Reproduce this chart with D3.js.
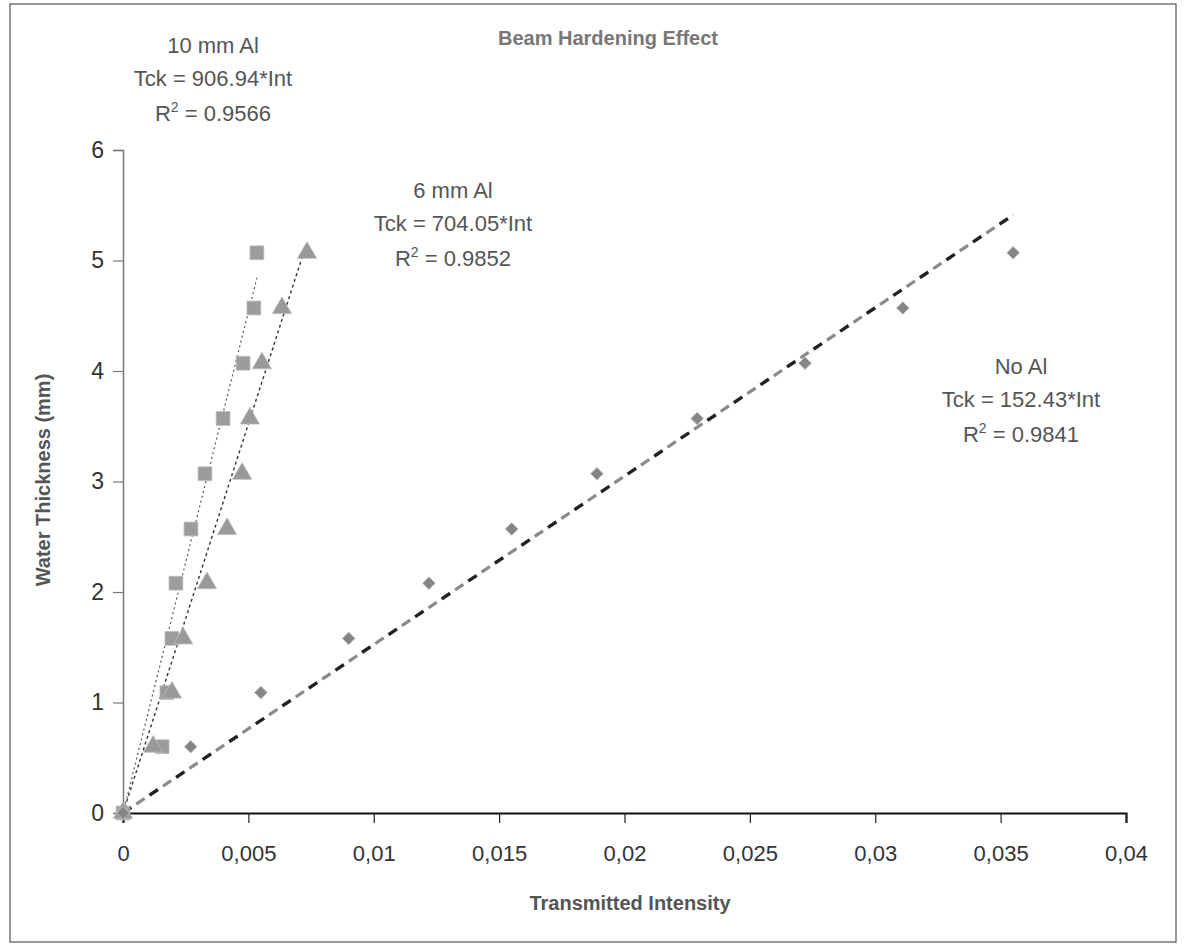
<!DOCTYPE html>
<html>
<head>
<meta charset="utf-8">
<script src="https://cdn.jsdelivr.net/npm/d3@7"></script>
<style>
  body { margin: 0; background: #fff; }
  text { font-family: "Liberation Sans", Arial, sans-serif; }
</style>
</head>
<body>
<div id="chart"></div>
<script>
// water thickness steps (mm), shared by the three series
var thickness = [0, 0.6, 1.09, 1.58, 2.08, 2.57, 3.07, 3.57, 4.07, 4.57, 5.07]
var intNoAl = [0, 0.0027, 0.0055, 0.0090, 0.0122, 0.0155, 0.0189, 0.0229, 0.0272, 0.0311, 0.0355]
var int6mm = [0, 0.0012, 0.00195, 0.0024, 0.00335, 0.00415, 0.00475, 0.00506, 0.00554, 0.00634, 0.00734]
var int10mm = [0, 0.00156, 0.00175, 0.00195, 0.00211, 0.00271, 0.00327, 0.00399, 0.00479, 0.00522, 0.00534]

var slopes = { noal: 152.43, al6: 704.05, al10: 906.94 }
var r2 = { noal: '0.9841', al6: '0.9852', al10: '0.9566' }

var xTicks = [0, 0.005, 0.01, 0.015, 0.02, 0.025, 0.03, 0.035, 0.04]
var yTicks = [0, 1, 2, 3, 4, 5, 6]

var W = 1184, H = 950

var svg = d3.select('#chart').append('svg')
    .attr('width', W)
    .attr('height', H)

// outer frame of the scanned chart
svg.append('rect')
    .attr('x', 10).attr('y', 4)
    .attr('width', 1166).attr('height', 938)
    .attr('fill', 'none')
    .attr('stroke', '#555')
    .attr('stroke-width', 1.2)

var x = d3.scaleLinear().domain([0, 0.04]).range([123, 1126])
var y = d3.scaleLinear().domain([0, 6]).range([813, 150])

// y axis (grey, thin)
var yAxis = svg.append('g')
    .attr('transform', 'translate(' + x(0) + ',0)')
    .call(d3.axisLeft(y).tickValues(yTicks).tickSize(10).tickPadding(9).tickFormat(d3.format('d')))
yAxis.select('.domain').attr('stroke', '#777').attr('stroke-width', 1.5)
yAxis.selectAll('.tick line').attr('stroke', '#777').attr('stroke-width', 1.2)
yAxis.selectAll('.tick text')
    .attr('font-size', 23).attr('fill', '#333')

// x axis (black, heavier)
var xAxis = svg.append('g')
    .attr('transform', 'translate(0,' + y(0) + ')')
    .call(d3.axisBottom(x).tickValues(xTicks).tickSize(10).tickPadding(22)
        .tickFormat(function(d) { return String(d).replace('.', ',') }))
xAxis.select('.domain').attr('stroke', '#111').attr('stroke-width', 2.2)
xAxis.selectAll('.tick line').attr('stroke', '#222').attr('stroke-width', 1.2)
xAxis.selectAll('.tick text')
    .attr('font-size', 22).attr('fill', '#333')

// trendlines
function trend(slope, xs) {
    var xmax = d3.max(xs)
    return [[x(0), y(0)], [x(xmax), y(slope * xmax)]]
}
var line = d3.line()

var tNoAl = trend(slopes.noal, intNoAl)
svg.append('path').attr('d', line(tNoAl))
    .attr('stroke', '#8a8a8a').attr('stroke-width', 3.2)
    .attr('stroke-dasharray', '10,6').attr('fill', 'none')
svg.append('path').attr('d', line(tNoAl))
    .attr('stroke', '#222').attr('stroke-width', 3.2)
    .attr('stroke-dasharray', '10,22').attr('fill', 'none')

var t6 = trend(slopes.al6, int6mm)
svg.append('path').attr('d', line(t6))
    .attr('stroke', '#333').attr('stroke-width', 1.4)
    .attr('stroke-dasharray', '3,3').attr('fill', 'none')
var t10 = trend(slopes.al10, int10mm)
svg.append('path').attr('d', line(t10))
    .attr('stroke', '#555').attr('stroke-width', 1.2)
    .attr('stroke-dasharray', '2,3').attr('fill', 'none')

// markers
function markers(xs, type, size, fill, rot) {
    svg.append('g').selectAll('path')
        .data(xs.map(function(v, i) { return [v, thickness[i]] }))
        .join('path')
        .attr('d', d3.symbol().type(type).size(size))
        .attr('transform', function(d) {
            return 'translate(' + x(d[0]) + ',' + y(d[1]) + ') rotate(' + (rot || 0) + ')'
        })
        .attr('fill', fill)
        .attr('stroke', '#bbb')
        .attr('stroke-width', 0.8)
}
markers(int10mm, d3.symbolSquare, 190, '#9c9c9c')
markers(int6mm, d3.symbolTriangle, 160, '#999')
markers(intNoAl, d3.symbolSquare, 80, '#858585', 45)

// equation labels
function eqLabel(cx, cy, name, slope, r) {
    var g = svg.append('g').attr('fill', '#555').attr('font-size', 22).attr('text-anchor', 'middle')
    g.append('text').attr('x', cx).attr('y', cy).text(name)
    g.append('text').attr('x', cx).attr('y', cy + 33).text('Tck = ' + slope.toFixed(2) + '*Int')
    var t = g.append('text').attr('x', cx).attr('y', cy + 68)
    t.append('tspan').text('R')
    t.append('tspan').attr('font-size', 14).attr('dy', -9).text('2')
    t.append('tspan').attr('dy', 9).text(' = ' + r)
}
eqLabel(213, 53, '10 mm Al', slopes.al10, r2.al10)
eqLabel(453, 198, '6 mm Al', slopes.al6, r2.al6)
eqLabel(1021, 374, 'No Al', slopes.noal, r2.noal)

// titles
svg.append('text')
    .attr('x', 608).attr('y', 45)
    .attr('text-anchor', 'middle')
    .attr('font-size', 20).attr('font-weight', 'bold').attr('fill', '#777')
    .text('Beam Hardening Effect')

svg.append('text')
    .attr('x', 630).attr('y', 910)
    .attr('text-anchor', 'middle')
    .attr('font-size', 20).attr('font-weight', 'bold').attr('fill', '#555')
    .text('Transmitted Intensity')

svg.append('text')
    .attr('transform', 'translate(50,480) rotate(-90)')
    .attr('text-anchor', 'middle')
    .attr('font-size', 20).attr('font-weight', 'bold').attr('fill', '#555')
    .text('Water Thickness (mm)')
</script>
</body>
</html>
